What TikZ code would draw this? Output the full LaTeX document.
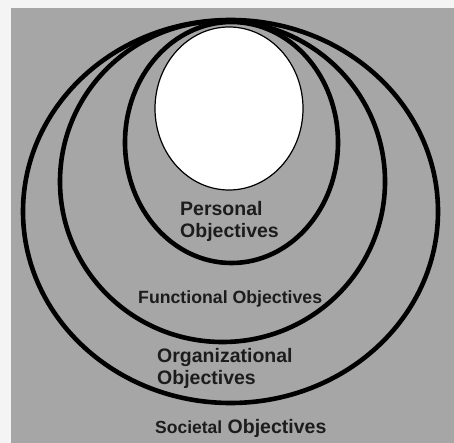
\documentclass[tikz,border=0pt]{standalone}
\usepackage{fontspec}
\setmainfont{Liberation Sans}
\usetikzlibrary{shapes.geometric}
\definecolor{pagebg}{HTML}{F4F4F4}
\definecolor{panel}{HTML}{A6A6A6}
\definecolor{ink}{HTML}{1C1C1C}
\tikzset{
  ring/.style={ellipse, draw=black, line width=4.6pt, inner sep=0pt},
  core/.style={ellipse, draw=black, fill=white, line width=1.2pt, inner sep=0pt},
  lbl/.style={inner sep=0pt, text=ink, font=\bfseries\fontsize{19.5}{22.5}\selectfont, align=left},
  lblsmall/.style={inner sep=0pt, text=ink, font=\bfseries\fontsize{17.7}{20}\selectfont}
}
\begin{document}
\begin{tikzpicture}[x=1pt,y=-1pt]
\useasboundingbox (0,0) rectangle (454,443);
\fill[pagebg] (0,0) rectangle (454,443);
\fill[panel] (11,8) rectangle (454,443);
\node[ring, minimum width=415pt, minimum height=383pt] (societal) at (230.5,211.5) {};
\node[ring, minimum width=325pt, minimum height=321pt] (functional) at (222.5,181.5) {};
\node[ring, minimum width=213pt, minimum height=241pt] (personal) at (231.5,142.5) {};
\node[core, minimum width=148pt, minimum height=163pt] (self) at (229,108.5) {};
\node[lbl, anchor=north west] (personaltxt) at (180,201) {Personal\\Objectives};
\node[lblsmall, anchor=base west] (functionaltxt) at (138,303) {Functional Objectives};
\node[lbl, anchor=north west] (orgtxt) at (157,348) {Organizational\\Objectives};
\node[lbl, anchor=base west] (societaltxt) at (155,433) {{\fontsize{17.5}{20}\selectfont Societal} Objectives};
\end{tikzpicture}
\end{document}
